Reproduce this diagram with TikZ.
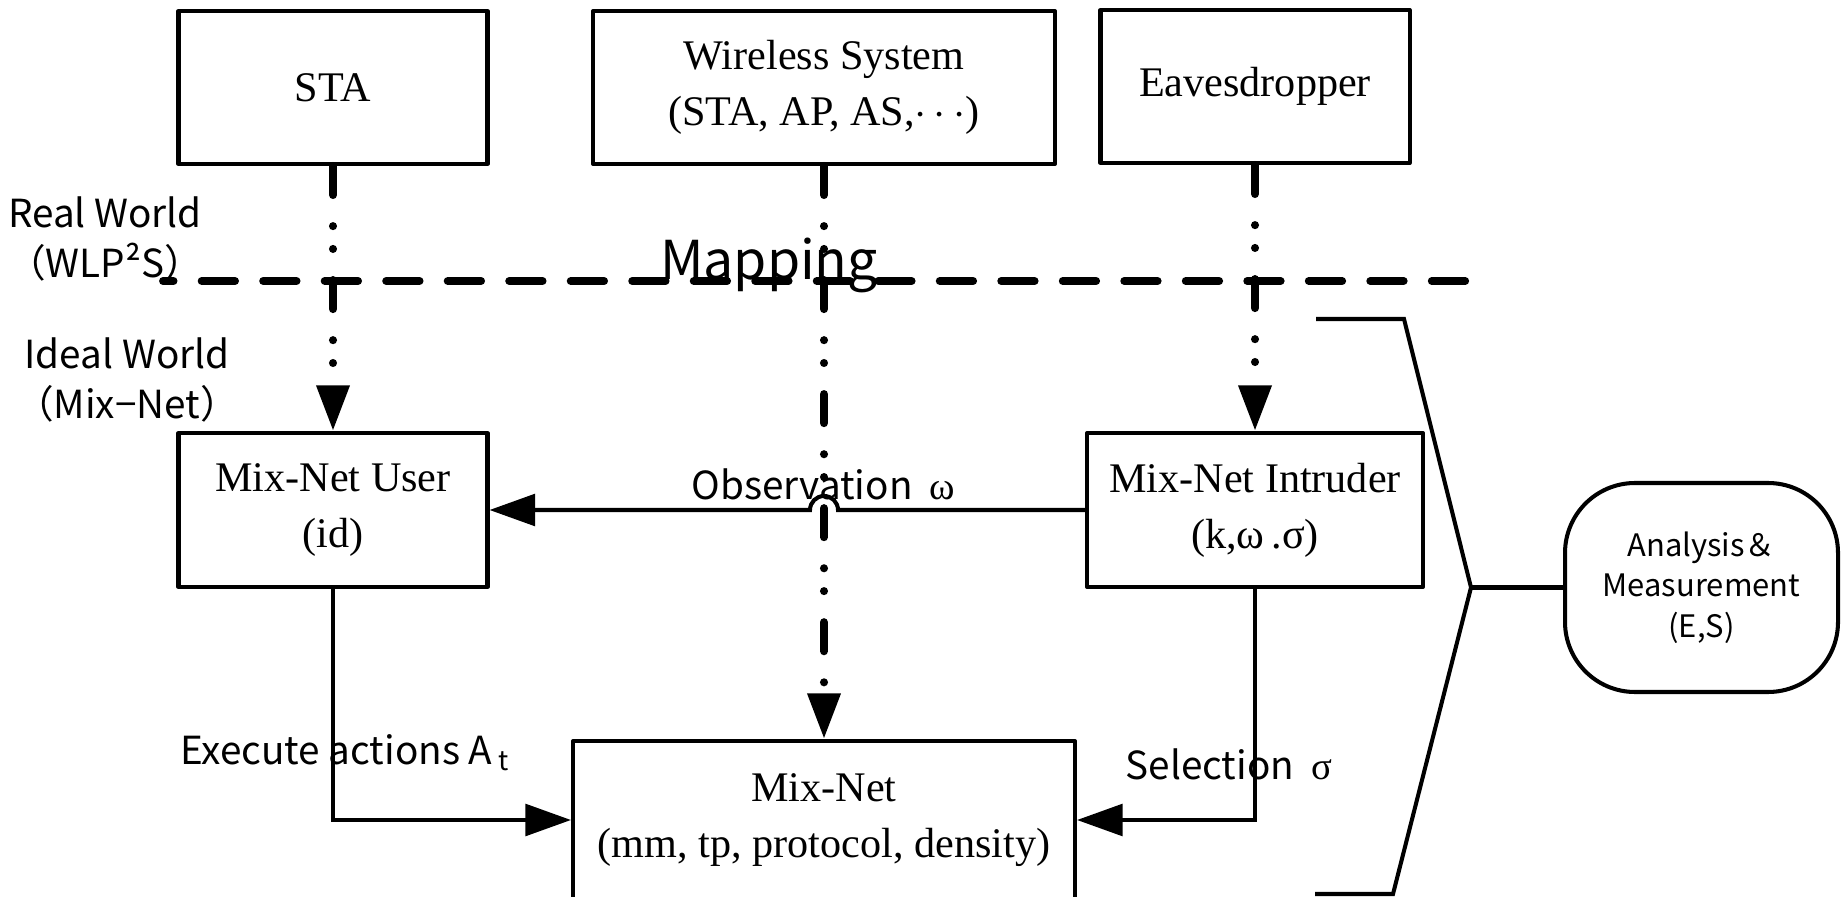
\documentclass[tikz,border=0pt]{standalone}
\usepackage{fontspec}
\setmainfont{Liberation Serif}
\newfontfamily\gothic{Noto Sans CJK JP}
\usepackage{tikz}
\usetikzlibrary{arrows.meta,calc,positioning}
\tikzstyle{block} =[rectangle, draw, line width=2.3pt, align=center,
                    inner sep=0pt, line join=round,
                    font=\fontsize{24}{32}\selectfont]
\tikzstyle{tag}   =[align=center, inner sep=0pt,
                    font=\gothic\fontsize{22}{28.5}\selectfont]
\tikzstyle{conn}  =[line width=2.3pt,
                    -{Triangle[length=26pt,width=18pt]}]
\tikzstyle{mapedge}=[line width=4.6pt, line cap=round,
                    dash pattern=on 16.5pt off 17.7pt on 0pt off 13pt on 0pt off 17.7pt,
                    -{Triangle[length=26pt,width=18pt]}]
\tikzstyle{worldline}=[line width=4.5pt, line cap=round,
                    dash pattern=on 19pt off 16pt, dash phase=13pt]
\tikzstyle{bracket}=[line width=2.3pt]

\begin{document}
\begin{tikzpicture}
    \clip (0,0) rectangle (36.84,17.92);

    % real world
    \draw (6.66,16.17) node (sta) [block,minimum width=6.18cm,minimum height=3.06cm] {STA};
    \draw (16.48,16.17) node (wsys) [block,minimum width=9.24cm,minimum height=3.06cm] {Wireless System\\(STA, AP, AS,$\cdots$)};
    \draw (25.10,16.19) node (eave) [block,minimum width=6.18cm,minimum height=3.06cm] {Eavesdropper};

    % ideal world
    \draw (6.66,7.72) node (user) [block,minimum width=6.18cm,minimum height=3.08cm] {Mix-Net User\\(id)};
    \draw (25.10,7.72) node (intr) [block,minimum width=6.72cm,minimum height=3.08cm] {Mix-Net Intruder\\(k,ω\,.σ)};
    \draw (16.48,1.52) node (mix) [block,minimum width=10.04cm,minimum height=3.16cm] {Mix-Net\\(mm, tp, protocol, density)};
    \draw (34.03,6.17) node (anal) [block,rounded corners=1.4cm,minimum width=5.46cm,minimum height=4.18cm,
        font=\gothic\fontsize{17.6}{23}\selectfont] {Analysis＆\\Measurement\\(E,S)};

    \draw (2.10,13.14) node (realw) [tag] {Real World\\（WLP²S）};
    \draw (2.54,10.32) node (idealw) [tag] {Ideal World\\（Mix−Net）};
    \draw (15.38,12.62) node (mapping) [tag,font=\gothic\fontsize{30.5}{36}\selectfont] {Mapping};
    \draw (16.47,8.24) node (obs) [tag] {Observation\ \ {\rmfamily ω}};
    \draw (6.90,2.86) node (exec) [tag] {Execute actions A\,\textsubscript{t}};
    \draw (24.58,2.64) node (sel) [tag] {Selection\ \ {\rmfamily σ}};

    \draw [worldline] (3.26,12.30) -- (29.48,12.30);

    \draw [conn] (intr.west) -- ($(wsys |- intr.west)+(0.28,0)$)
        arc [start angle=0,end angle=180,radius=0.28] -- (user.east);
    \draw [conn] (user.south) |- (mix.west);
    \draw [conn] (intr.south) |- (mix.east);

    \foreach \i/\j in {sta/user,wsys/mix,eave/intr}
        \draw [mapedge] (\i) to (\j);

    % bracket towards the analysis box
    \coordinate (tip) at (29.42,6.17);
    \draw [bracket] (26.32,11.54) -- (28.08,11.54) -- (tip) -- (27.86,0.04) -- (26.30,0.04);
    \draw [bracket] (tip) -- (anal.west);
\end{tikzpicture}
\end{document}
